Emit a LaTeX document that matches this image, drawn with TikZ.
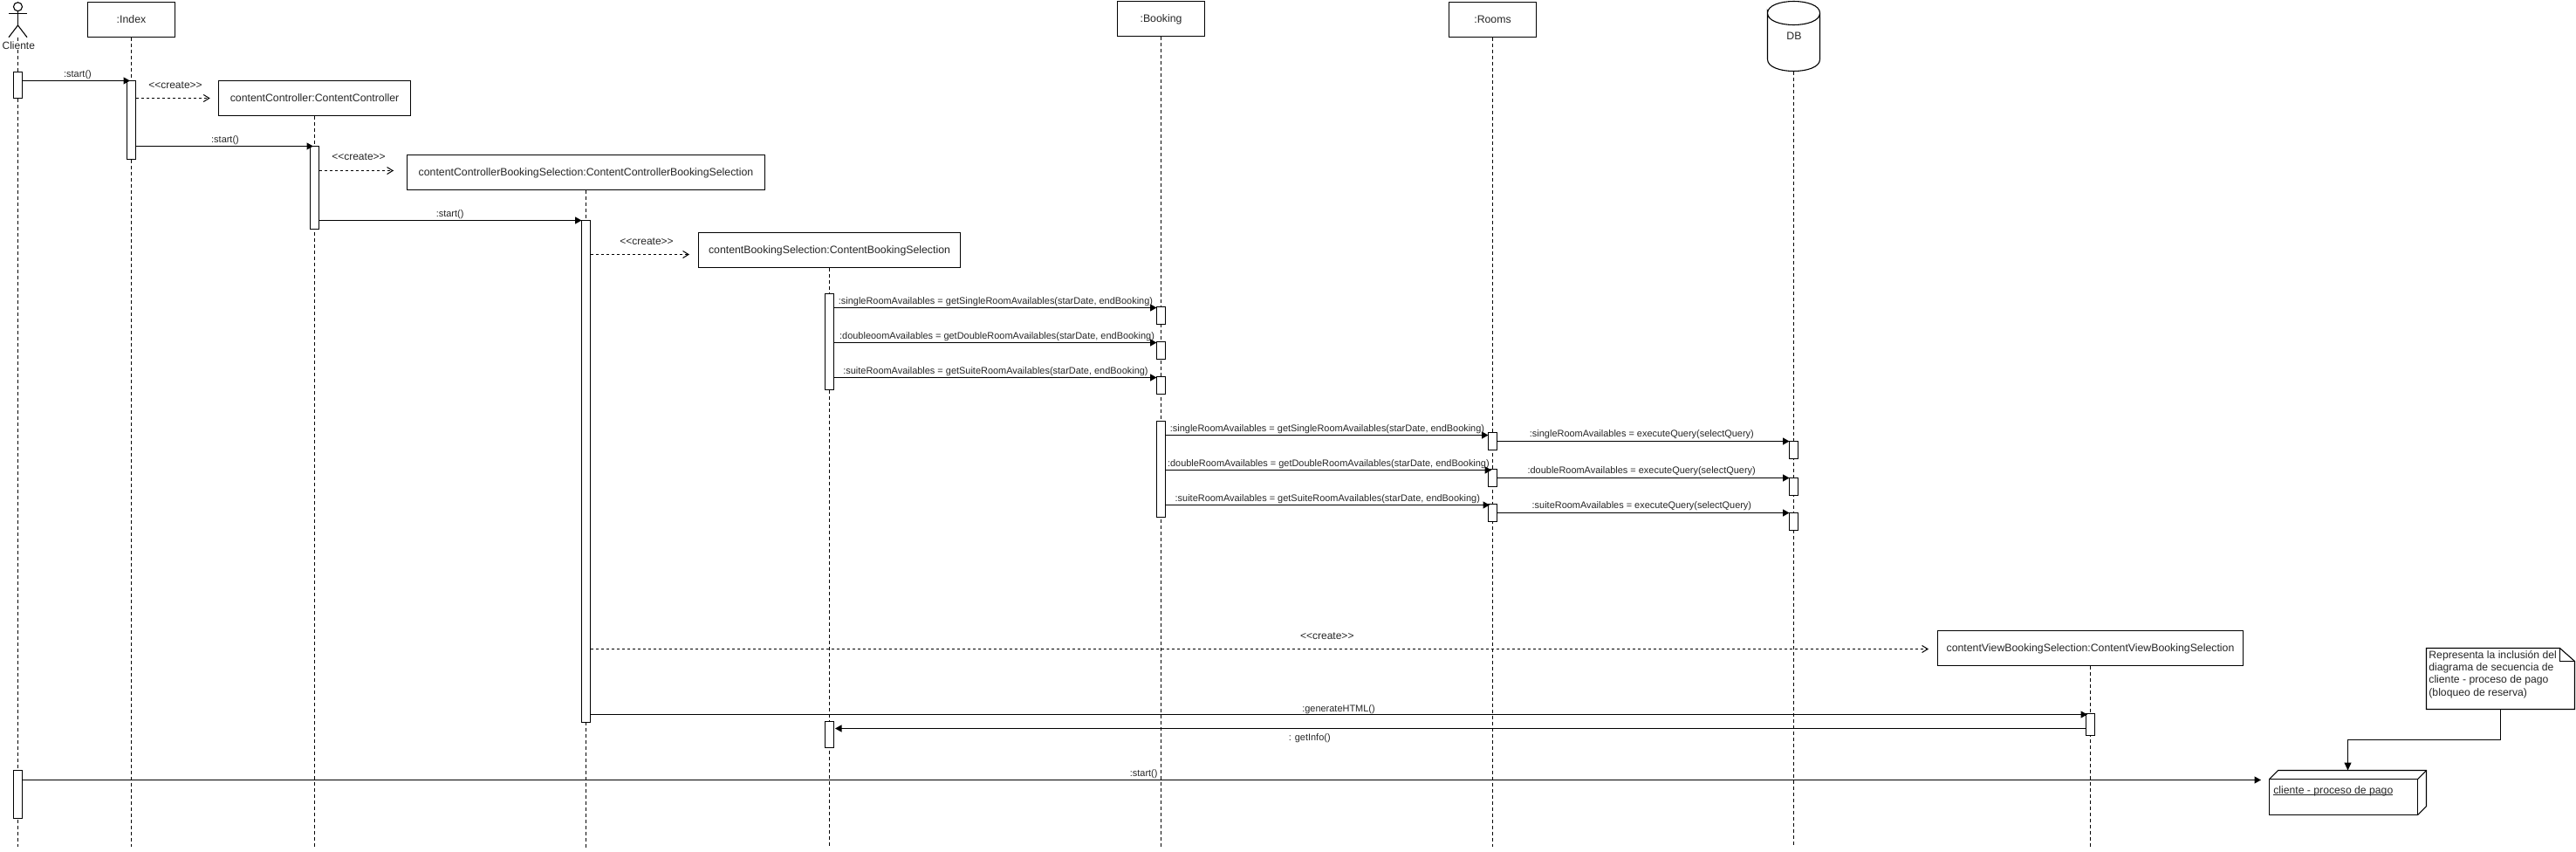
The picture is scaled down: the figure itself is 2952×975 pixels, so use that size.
\documentclass[tikz,border=0pt]{standalone}
\usepackage{fontspec}
\setmainfont{Liberation Sans}
\usetikzlibrary{arrows.meta,calc}
\tikzset{
  base/.style={line width=1.1pt,draw=black},
  objbox/.style={base,fill=white,inner sep=0pt,outer sep=0pt,text=black!85,font=\fontsize{12.3}{14}\selectfont,text height=8pt,text depth=0pt},
  actbar/.style={base,fill=white,inner sep=0pt,outer sep=0pt},
  ghost/.style={inner sep=0pt,outer sep=0pt,text=black!85,font=\fontsize{12.3}{14}\selectfont,text height=8pt,text depth=0pt},
  lifeline/.style={line width=0.9pt,draw=black,dash pattern=on 4pt off 3pt},
  syncmsg/.style={base,-{Triangle[length=7.5pt,width=8pt]}},
  createmsg/.style={line width=1pt,draw=black,dash pattern=on 3pt off 3pt,-{Straight Barb[length=6.5pt,width=8pt,line width=1pt]}},
  msglabel/.style={inner sep=0pt,outer sep=0pt,text=black!85,font=\fontsize{10.95}{13}\selectfont,text height=8pt,text depth=0pt},
  createlabel/.style={msglabel,font=\fontsize{12}{14}\selectfont},
}
% [style] name x1 y1 x2 y2 text
\newcommand{\placed}[7][objbox]{%
  \pgfmathsetmacro{\cxx}{(#3+#5)/2}%
  \pgfmathsetmacro{\cyy}{(#4+#6)/2}%
  \node[#1,minimum width={#5-#3},minimum height={#6-#4}] (#2) at (\cxx,\cyy) {#7};}
\begin{document}
\begin{tikzpicture}[x=1pt,y=-1pt]
\useasboundingbox (0,0) rectangle (2952,975);
\fill[white] (0,0) rectangle (2952,975);

% lifeline ends
\coordinate (endC) at (20.5,970);
\coordinate (endI) at (150.5,970);
\coordinate (endCC) at (360.5,970);
\coordinate (endCB) at (671.5,971);
\coordinate (endB) at (950.5,970);
\coordinate (endBK) at (1330.5,970);
\coordinate (endR) at (1710.5,970);
\coordinate (endDB) at (2055.5,970);
\coordinate (endV) at (2395.5,970);

% actor
\node[circle,base,minimum size=10pt,inner sep=0pt,outer sep=0pt] (head) at (20.5,7.7) {};
\coordinate (hip) at (20.5,29);
\coordinate (foot) at (20.5,42.7);
\draw[base] (head.south) -- (hip);
\draw[base] (10,15.5) -- (31,15.5);
\draw[base] (10,42.7) -- (hip) -- (31,42.7);
\draw[lifeline] (foot) -- (endC);
\node[ghost,fill=white,text height=8pt,text depth=1pt,font=\fontsize{12}{14}\selectfont] (cliente) at (21.3,52.7) {Cliente};

% object boxes
\placed{index}{100.5}{2.5}{200.5}{42.5}{:Index}
\placed{cc}{250.5}{92.5}{470.5}{132.5}{contentController:ContentController}
\placed{ccbs}{466.5}{177.5}{876.5}{217.5}{contentControllerBookingSelection:ContentControllerBookingSelection}
\placed{cbs}{800.5}{266.5}{1100.5}{306.5}{contentBookingSelection:ContentBookingSelection}
\placed{booking}{1280.5}{1.5}{1380.5}{41.5}{:Booking}
\placed{rooms}{1660.5}{2.5}{1760.5}{42.5}{:Rooms}
\placed{cvbs}{2220.5}{722.5}{2570.5}{762.5}{contentViewBookingSelection:ContentViewBookingSelection}

% database
\placed[ghost]{db}{2025.5}{1.5}{2085.5}{81.5}{\hspace*{1pt}DB}
\draw[lifeline] (db.south) -- (endDB);
\draw[base] (db.north west |- 0,15) .. controls +(0,-18) and +(0,-18) .. (db.north east |- 0,15)
  .. controls +(0,18) and +(0,18) .. (db.north west |- 0,15) -- (db.north west |- 0,68)
  .. controls +(0,18) and +(0,18) .. (db.north east |- 0,68) -- (db.north east |- 0,15);

% lifelines
\draw[lifeline] (index.south) -- (endI);
\draw[lifeline] (cc.south -| endCC) -- (endCC);
\draw[lifeline] (ccbs.south -| endCB) -- (endCB);
\draw[lifeline] (cbs.south) -- (endB);
\draw[lifeline] (booking.south -| endBK) -- (endBK);
\draw[lifeline] (rooms.south -| endR) -- (endR);
\draw[lifeline] (cvbs.south -| endV) -- (endV);

% activations
\placed[actbar]{aC1}{15.5}{82.5}{25.5}{112.5}{}
\placed[actbar]{aC2}{15.5}{882.5}{25.5}{937.5}{}
\placed[actbar]{aI}{145.5}{92.5}{155.5}{182.5}{}
\placed[actbar]{aCC}{355.5}{167.5}{365.5}{262.5}{}
\placed[actbar]{aCB}{666.5}{252.5}{676.5}{827.5}{}
\placed[actbar]{aB1}{945.5}{336.5}{955.5}{446.5}{}
\placed[actbar]{aB2}{945.5}{826.5}{955.5}{856.5}{}
\placed[actbar]{aK1}{1325.5}{351.5}{1335.5}{371.5}{}
\placed[actbar]{aK2}{1325.5}{391.5}{1335.5}{411.5}{}
\placed[actbar]{aK3}{1325.5}{431.5}{1335.5}{451.5}{}
\placed[actbar]{aK4}{1325.5}{482.5}{1335.5}{592.5}{}
\placed[actbar]{aR1}{1705.5}{495.5}{1715.5}{515.5}{}
\placed[actbar]{aR2}{1705.5}{537.5}{1715.5}{557.5}{}
\placed[actbar]{aR3}{1705.5}{577.5}{1715.5}{597.5}{}
\placed[actbar]{aD1}{2050.5}{505.5}{2060.5}{525.5}{}
\placed[actbar]{aD2}{2050.5}{547.5}{2060.5}{567.5}{}
\placed[actbar]{aD3}{2050.5}{587.5}{2060.5}{607.5}{}
\placed[actbar]{aV}{2390.5}{817.5}{2400.5}{842.5}{}

% process node and note
\placed[ghost]{proc}{2600.5}{892.5}{2770.5}{933.5}{}
\draw[base] (proc.north west) rectangle (proc.south east);
\draw[base] (proc.north west) -- (2610.5,882.5) -- (2780.5,882.5) -- (2780.5,923.5) -- (proc.south east);
\draw[base] (proc.north east) -- (2780.5,882.5);
\node[msglabel,anchor=west,font=\fontsize{12.2}{14}\selectfont] (proclabel) at (2605.3,905) {cliente - proceso de pago};
\draw[line width=0.8pt,black!85] ([yshift=-1pt]proclabel.south west) -- ([yshift=-1pt]proclabel.south east);
\coordinate (procTop) at (2690.5,882.5);

\placed[ghost]{note}{2780.5}{742.5}{2950.5}{812.5}{}
\draw[base] (note.south west) -- (note.north west) -- (2933.5,742.5) -- (2950.5,757.5) -- (note.south east) -- cycle;
\draw[base] (2933.5,742.5) -- (2933.5,757.5) -- (2950.5,757.5);
\node[anchor=north west,inner sep=0pt,align=left,text=black!85,font=\fontsize{12.2}{14.2}\selectfont] (notetext) at (2783.2,745.3)
  {Representa la inclusión del\\diagrama de secuencia de\\cliente - proceso de pago\\(bloqueo de reserva)};
\coordinate (noteBottom) at (2865.5,812.5);
\draw[base,-{Triangle[length=9pt,width=8pt]}] (noteBottom) |- (2690.5,847.5) -- (procTop);

% messages
\draw[syncmsg,shorten >=-3.5pt] (aC1.east |- 0,92.5) -- (aI.west |- 0,92.5);
\draw[syncmsg,shorten >=-3.5pt] (aI.east |- 0,167.5) -- (aCC.west |- 0,167.5);
\draw[syncmsg] (aCC.east |- 0,252.5) -- (aCB.west |- 0,252.5);
\draw[syncmsg] (aB1.east |- 0,352.5) -- (aK1.west |- 0,352.5);
\draw[syncmsg] (aB1.east |- 0,392.5) -- (aK2.west |- 0,392.5);
\draw[syncmsg] (aB1.east |- 0,432.5) -- (aK3.west |- 0,432.5);
\draw[syncmsg] (aK4.east |- 0,498.5) -- (aR1.west |- 0,498.5);
\draw[syncmsg,shorten >=-3.7pt] (aK4.east |- 0,538.5) -- (aR2.west |- 0,538.5);
\draw[syncmsg,shorten >=-1.5pt] (aK4.east |- 0,578.5) -- (aR3.west |- 0,578.5);
\draw[syncmsg] (aR1.east |- 0,505.5) -- (aD1.west |- 0,505.5);
\draw[syncmsg] (aR2.east |- 0,547.5) -- (aD2.west |- 0,547.5);
\draw[syncmsg] (aR3.east |- 0,587.5) -- (aD3.west |- 0,587.5);
\draw[syncmsg,shorten >=-1.5pt] (aCB.east |- 0,818.5) -- (aV.west |- 0,818.5);
\draw[syncmsg,shorten >=1.5pt] (aV.west |- 0,834.5) -- (aB2.east |- 0,834.5);
\draw[syncmsg] (aC2.east |- 0,893.5) -- (2591,893.5);
\draw[createmsg] (aI.east |- 0,112.5) -- (240.7,112.5);
\draw[createmsg] (aCC.east |- 0,195.5) -- (451,195.5);
\draw[createmsg] (aCB.east |- 0,291.5) -- (790,291.5);
\draw[createmsg] (aCB.east |- 0,743.5) -- (2210,743.5);

% message labels
\node[msglabel] (l1) at (89,84.3) {:start()};
\node[msglabel] (l2) at (258,159.3) {:start()};
\node[msglabel] (l3) at (515.6,244.3) {:start()};
\node[createlabel] (c1) at (201,97.5) {<{}<create>{}>};
\node[createlabel] (c2) at (411,179.8) {<{}<create>{}>};
\node[createlabel] (c3) at (741,276.7) {<{}<create>{}>};
\node[createlabel] (c4) at (1520.8,728) {<{}<create>{}>};
\node[msglabel] (m1) at (1141,344.3) {:singleRoomAvailables = getSingleRoomAvailables(starDate, endBooking)};
\node[msglabel] (m2) at (1142.6,384.3) {:doubleoomAvailables = getDoubleRoomAvailables(starDate, endBooking)};
\node[msglabel] (m3) at (1141,424.3) {:suiteRoomAvailables = getSuiteRoomAvailables(starDate, endBooking)};
\node[msglabel] (m4) at (1521,490.3) {:singleRoomAvailables = getSingleRoomAvailables(starDate, endBooking)};
\node[msglabel] (m5) at (1522.4,530.3) {:doubleRoomAvailables = getDoubleRoomAvailables(starDate, endBooking)};
\node[msglabel] (m6) at (1521.3,570.3) {:suiteRoomAvailables = getSuiteRoomAvailables(starDate, endBooking)};
\node[msglabel] (q1) at (1881.4,496.6) {:singleRoomAvailables = executeQuery(selectQuery)};
\node[msglabel] (q2) at (1881.2,538.5) {:doubleRoomAvailables = executeQuery(selectQuery)};
\node[msglabel] (q3) at (1881.4,578.5) {:suiteRoomAvailables = executeQuery(selectQuery)};
\node[msglabel] (g1) at (1534,811) {:generateHTML()};
\node[msglabel] (g2) at (1500.7,844.7) {: getInfo()};
\node[msglabel] (g3) at (1310.7,885.7) {:start()};
\end{tikzpicture}
\end{document}
